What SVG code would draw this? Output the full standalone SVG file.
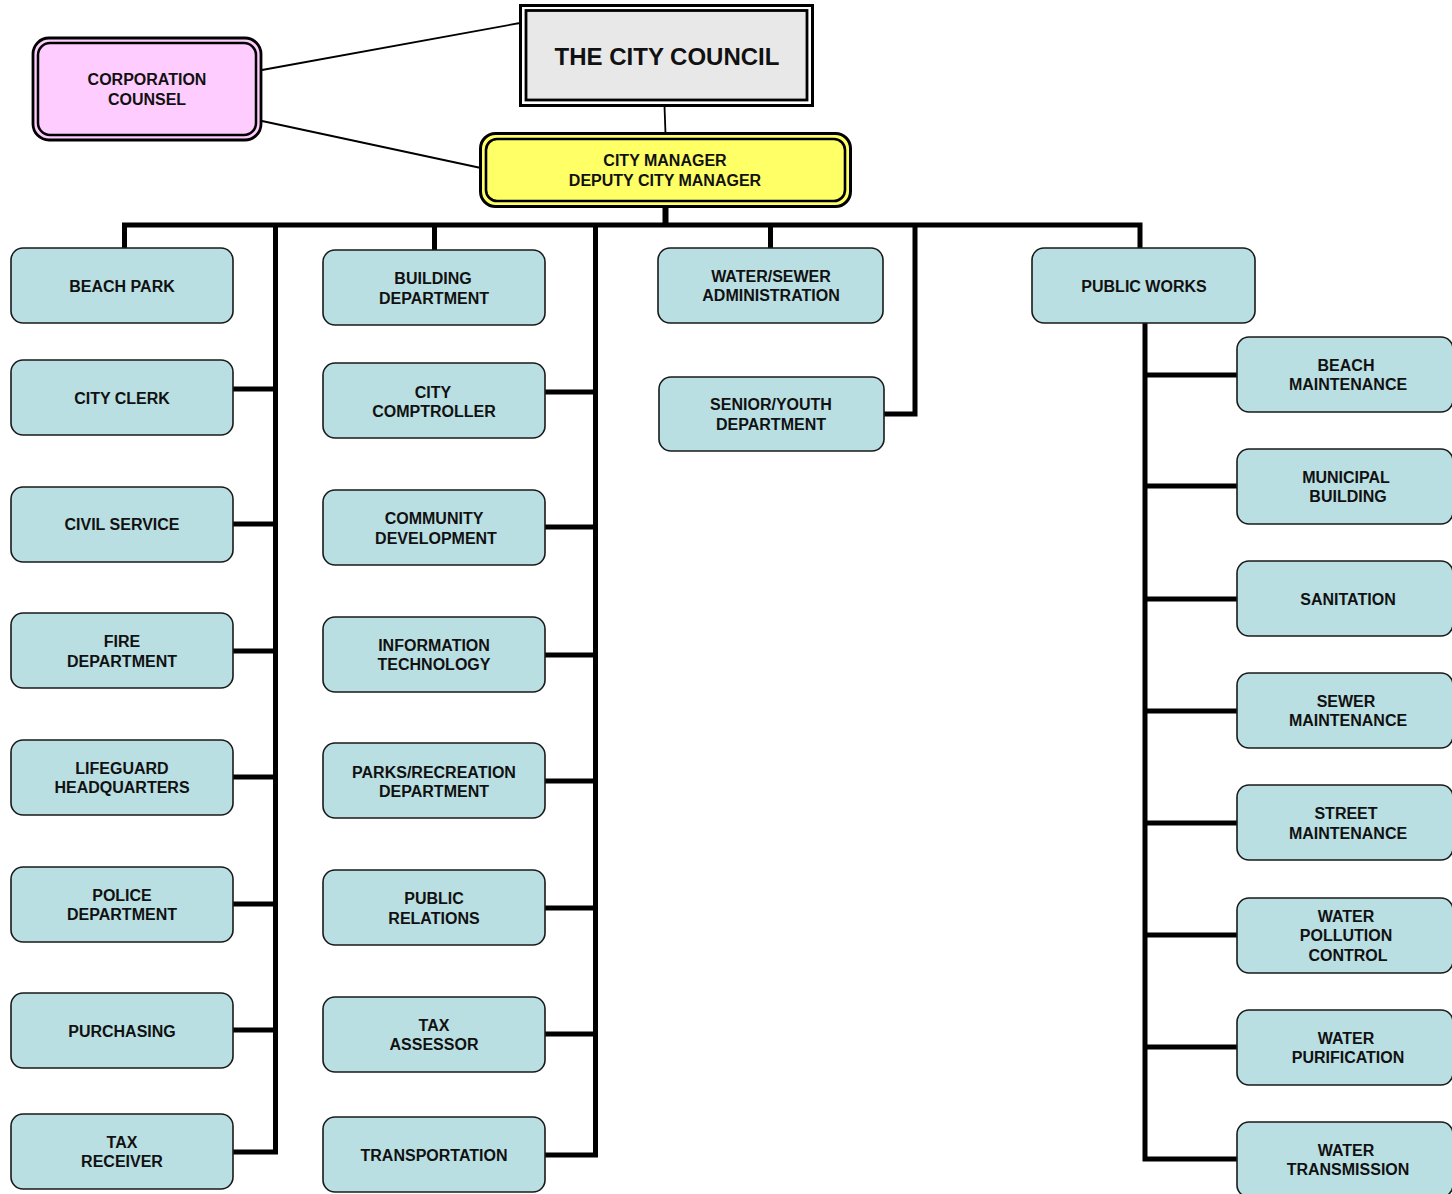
<svg xmlns="http://www.w3.org/2000/svg" width="1452" height="1194" viewBox="0 0 1452 1194">
<style>
.n rect.b{fill:#B9DFE3;stroke:#1a1a1a;stroke-width:1.6}
text{font-family:"Liberation Sans",Arial,sans-serif;font-weight:bold;font-size:16px;fill:#111;text-anchor:middle}
.c{fill:none;stroke:#000;stroke-width:5;stroke-linejoin:miter;stroke-linecap:butt}
.t{fill:none;stroke:#000;stroke-width:1.8}
</style>
<rect width="1452" height="1194" fill="#fff"/>
<g id="connectors">
<line class="t" x1="262" y1="70" x2="520" y2="23"/>
<line class="t" x1="262" y1="121" x2="481" y2="168"/>
<line class="t" x1="664.5" y1="106" x2="665.5" y2="134"/>
<line class="c" x1="665.5" y1="206" x2="665.5" y2="225" style="stroke-width:6"/>
<polyline class="c" points="124.5,248 124.5,225 1140,225 1140,248"/>
<polyline class="c" points="275.5,225 275.5,1152 233,1152"/>
<line class="c" x1="233" y1="389" x2="275.5" y2="389"/>
<line class="c" x1="233" y1="524" x2="275.5" y2="524"/>
<line class="c" x1="233" y1="651" x2="275.5" y2="651"/>
<line class="c" x1="233" y1="777" x2="275.5" y2="777"/>
<line class="c" x1="233" y1="904" x2="275.5" y2="904"/>
<line class="c" x1="233" y1="1030" x2="275.5" y2="1030"/>
<line class="c" x1="434.5" y1="225" x2="434.5" y2="250"/>
<polyline class="c" points="595.5,225 595.5,1155 545,1155"/>
<line class="c" x1="545" y1="392" x2="595.5" y2="392"/>
<line class="c" x1="545" y1="527" x2="595.5" y2="527"/>
<line class="c" x1="545" y1="655" x2="595.5" y2="655"/>
<line class="c" x1="545" y1="781" x2="595.5" y2="781"/>
<line class="c" x1="545" y1="908" x2="595.5" y2="908"/>
<line class="c" x1="545" y1="1034" x2="595.5" y2="1034"/>
<line class="c" x1="770.5" y1="225" x2="770.5" y2="248"/>
<polyline class="c" points="915,225 915,414 884,414"/>
<polyline class="c" points="1145,323 1145,1159 1237,1159"/>
<line class="c" x1="1145" y1="375" x2="1237" y2="375"/>
<line class="c" x1="1145" y1="486" x2="1237" y2="486"/>
<line class="c" x1="1145" y1="599" x2="1237" y2="599"/>
<line class="c" x1="1145" y1="711" x2="1237" y2="711"/>
<line class="c" x1="1145" y1="823" x2="1237" y2="823"/>
<line class="c" x1="1145" y1="935" x2="1237" y2="935"/>
<line class="c" x1="1145" y1="1047" x2="1237" y2="1047"/>
</g>
<g id="council">
<rect x="520.5" y="5.5" width="292" height="100" fill="#fff" stroke="#000" stroke-width="3"/>
<rect x="526" y="10.5" width="281" height="89.5" fill="#E8E8E8" stroke="#000" stroke-width="2.8"/>
<text x="667" y="64.5" style="font-size:24px">THE CITY COUNCIL</text>
</g>
<g id="corporation-counsel">
<rect x="33" y="38" width="228" height="102" rx="16" fill="#FFCCFF" stroke="#000" stroke-width="2.8"/>
<rect x="38" y="43" width="218" height="92" rx="12" fill="#FFCCFF" stroke="#000" stroke-width="2.5"/>
<text x="147" y="85">CORPORATION</text>
<text x="147" y="105">COUNSEL</text>
</g>
<g id="city-manager">
<rect x="480.5" y="133.5" width="370" height="73" rx="15" fill="#FFFF66" stroke="#000" stroke-width="3"/>
<rect x="486" y="139" width="359" height="62" rx="11" fill="#FFFF66" stroke="#000" stroke-width="2.6"/>
<text x="665" y="166">CITY MANAGER</text>
<text x="665" y="186">DEPUTY CITY MANAGER</text>
</g>
<g id="beach-park" class="n"><rect class="b" x="11" y="248" width="222" height="75" rx="12"/><text x="122" y="292">BEACH PARK</text></g>
<g id="city-clerk" class="n"><rect class="b" x="11" y="360" width="222" height="75" rx="12"/><text x="122" y="404">CITY CLERK</text></g>
<g id="civil-service" class="n"><rect class="b" x="11" y="487" width="222" height="75" rx="12"/><text x="122" y="530">CIVIL SERVICE</text></g>
<g id="fire-department" class="n"><rect class="b" x="11" y="613" width="222" height="75" rx="12"/><text x="122" y="647">FIRE</text><text x="122" y="667">DEPARTMENT</text></g>
<g id="lifeguard-hq" class="n"><rect class="b" x="11" y="740" width="222" height="75" rx="12"/><text x="122" y="774">LIFEGUARD</text><text x="122" y="793">HEADQUARTERS</text></g>
<g id="police-department" class="n"><rect class="b" x="11" y="867" width="222" height="75" rx="12"/><text x="122" y="901">POLICE</text><text x="122" y="920">DEPARTMENT</text></g>
<g id="purchasing" class="n"><rect class="b" x="11" y="993" width="222" height="75" rx="12"/><text x="122" y="1037">PURCHASING</text></g>
<g id="tax-receiver" class="n"><rect class="b" x="11" y="1114" width="222" height="75" rx="12"/><text x="122" y="1148">TAX</text><text x="122" y="1167">RECEIVER</text></g>
<g id="building-department" class="n"><rect class="b" x="323" y="250" width="222" height="75" rx="12"/><text x="433" y="284">BUILDING</text><text x="434" y="304">DEPARTMENT</text></g>
<g id="city-comptroller" class="n"><rect class="b" x="323" y="363" width="222" height="75" rx="12"/><text x="433" y="398">CITY</text><text x="434" y="417">COMPTROLLER</text></g>
<g id="community-development" class="n"><rect class="b" x="323" y="490" width="222" height="75" rx="12"/><text x="434" y="524">COMMUNITY</text><text x="436" y="544">DEVELOPMENT</text></g>
<g id="information-technology" class="n"><rect class="b" x="323" y="617" width="222" height="75" rx="12"/><text x="434" y="651">INFORMATION</text><text x="434" y="670">TECHNOLOGY</text></g>
<g id="parks-recreation" class="n"><rect class="b" x="323" y="743" width="222" height="75" rx="12"/><text x="434" y="778">PARKS/RECREATION</text><text x="434" y="797">DEPARTMENT</text></g>
<g id="public-relations" class="n"><rect class="b" x="323" y="870" width="222" height="75" rx="12"/><text x="434" y="904">PUBLIC</text><text x="434" y="924">RELATIONS</text></g>
<g id="tax-assessor" class="n"><rect class="b" x="323" y="997" width="222" height="75" rx="12"/><text x="434" y="1031">TAX</text><text x="434" y="1050">ASSESSOR</text></g>
<g id="transportation" class="n"><rect class="b" x="323" y="1117" width="222" height="75" rx="12"/><text x="434" y="1161">TRANSPORTATION</text></g>
<g id="water-sewer-admin" class="n"><rect class="b" x="658" y="248" width="225" height="75" rx="12"/><text x="771" y="282">WATER/SEWER</text><text x="771" y="301">ADMINISTRATION</text></g>
<g id="senior-youth" class="n"><rect class="b" x="659" y="377" width="225" height="74" rx="12"/><text x="771" y="410">SENIOR/YOUTH</text><text x="771" y="430">DEPARTMENT</text></g>
<g id="public-works" class="n"><rect class="b" x="1032" y="248" width="223" height="75" rx="12"/><text x="1144" y="292">PUBLIC WORKS</text></g>
<g id="beach-maintenance" class="n"><rect class="b" x="1237" y="337" width="216" height="75" rx="12"/><text x="1346" y="371">BEACH</text><text x="1348" y="390">MAINTENANCE</text></g>
<g id="municipal-building" class="n"><rect class="b" x="1237" y="449" width="216" height="75" rx="12"/><text x="1346" y="483">MUNICIPAL</text><text x="1348" y="502">BUILDING</text></g>
<g id="sanitation" class="n"><rect class="b" x="1237" y="561" width="216" height="75" rx="12"/><text x="1348" y="605">SANITATION</text></g>
<g id="sewer-maintenance" class="n"><rect class="b" x="1237" y="673" width="216" height="75" rx="12"/><text x="1346" y="707">SEWER</text><text x="1348" y="726">MAINTENANCE</text></g>
<g id="street-maintenance" class="n"><rect class="b" x="1237" y="785" width="216" height="75" rx="12"/><text x="1346" y="819">STREET</text><text x="1348" y="839">MAINTENANCE</text></g>
<g id="water-pollution-control" class="n"><rect class="b" x="1237" y="898" width="216" height="75" rx="12"/><text x="1346" y="922">WATER</text><text x="1346" y="941">POLLUTION</text><text x="1348" y="961">CONTROL</text></g>
<g id="water-purification" class="n"><rect class="b" x="1237" y="1010" width="216" height="75" rx="12"/><text x="1346" y="1044">WATER</text><text x="1348" y="1063">PURIFICATION</text></g>
<g id="water-transmission" class="n"><rect class="b" x="1237" y="1122" width="216" height="75" rx="12"/><text x="1346" y="1156">WATER</text><text x="1348" y="1175">TRANSMISSION</text></g>
</svg>
